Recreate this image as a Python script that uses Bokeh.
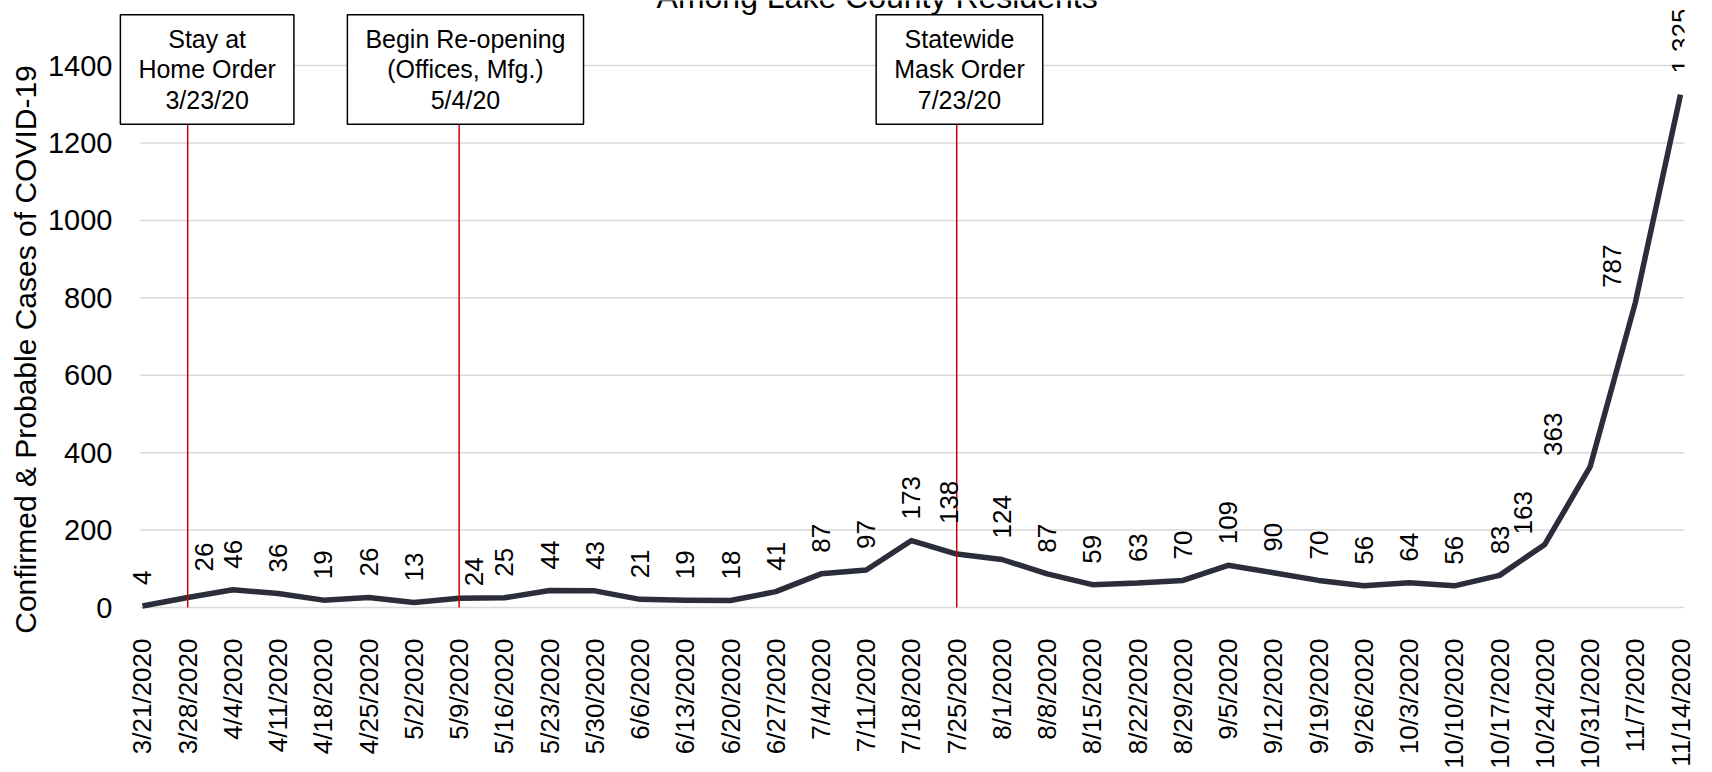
import math
from bokeh.plotting import figure
from bokeh.layouts import row
from bokeh.models import Range1d, FixedTicker, Label, ColumnDataSource
from bokeh.core.properties import value
from bokeh.embed import file_html
from bokeh.resources import INLINE

# ---------------- data ----------------
dates = ["3/21/2020", "3/28/2020", "4/4/2020", "4/11/2020", "4/18/2020", "4/25/2020",
         "5/2/2020", "5/9/2020", "5/16/2020", "5/23/2020", "5/30/2020", "6/6/2020",
         "6/13/2020", "6/20/2020", "6/27/2020", "7/4/2020", "7/11/2020", "7/18/2020",
         "7/25/2020", "8/1/2020", "8/8/2020", "8/15/2020", "8/22/2020", "8/29/2020",
         "9/5/2020", "9/12/2020", "9/19/2020", "9/26/2020", "10/3/2020", "10/10/2020",
         "10/17/2020", "10/24/2020", "10/31/2020", "11/7/2020", "11/14/2020"]
cases = [4, 26, 46, 36, 19, 26, 13, 24, 25, 44, 43, 21, 19, 18, 41, 87, 97, 173,
         138, 124, 87, 59, 63, 70, 109, 90, 70, 56, 64, 56, 83, 163, 363, 787, 1325]
y_ticks = [0, 200, 400, 600, 800, 1000, 1200, 1400]
event_texts = ["Stay at\nHome Order\n3/23/20",
               "Begin Re-opening\n(Offices, Mfg.)\n5/4/20",
               "Statewide\nMask Order\n7/23/20"]
event_dates = ["3/28/2020", "5/9/2020", "7/25/2020"]
title_text = "Among Lake County Residents"
y_label = "Confirmed & Probable Cases of COVID-19"

# ---------------- styling / layout ----------------
FONT = "Liberation Sans"
LINE_COLOR = "#2b2e3a"
RED = "#d00000"
GRID = "#d9d9d9"
N = len(dates)
H = 772
LEFT_W = 44

# left strip holding the vertical axis title
p0 = figure(width=LEFT_W, height=H, output_backend="svg", toolbar_location=None,
            x_range=Range1d(0, LEFT_W), y_range=Range1d(0, H),
            x_axis_location=None, y_axis_location=None,
            min_border=0)
p0.frame_align = False
p0.outline_line_color = None
p0.xgrid.visible = False
p0.ygrid.visible = False
p0.text(x=[25], y=[H - 349], text=[y_label], angle=math.pi / 2,
        text_align="center", text_baseline="middle",
        text_font=value(FONT), text_font_size="30px", text_color="black")

xs = list(range(N))
p = figure(width=1712 - LEFT_W, height=H, output_backend="svg", toolbar_location=None,
           x_range=Range1d(-0.596, N - 1 + 0.088),
           y_range=Range1d(-10.33, 1568.1),
           min_border_left=68, min_border_right=28, min_border_top=0,
           min_border_bottom=161)
p.frame_align = False
p.outline_line_color = None

# x axis
p.xaxis.ticker = FixedTicker(ticks=xs)
p.xaxis.major_label_overrides = {i: d for i, d in enumerate(dates)}
p.xaxis.major_label_orientation = math.pi / 2
p.xaxis.axis_line_color = None
p.xaxis.major_tick_line_color = None
p.xaxis.minor_tick_line_color = None
p.xaxis.major_tick_out = 0
p.xaxis.major_tick_in = 0
p.xaxis.major_label_text_font = FONT
p.xaxis.major_label_text_font_size = "26px"
p.xaxis.major_label_text_color = "black"
p.xaxis.major_label_standoff = 27
p.xgrid.visible = False

# y axis
p.yaxis.ticker = FixedTicker(ticks=y_ticks)
p.yaxis.axis_line_color = None
p.yaxis.major_tick_line_color = None
p.yaxis.minor_tick_line_color = None
p.yaxis.major_tick_out = 0
p.yaxis.major_tick_in = 0
p.yaxis.major_label_text_font = FONT
p.yaxis.major_label_text_font_size = "29px"
p.yaxis.major_label_text_color = "black"
p.yaxis.major_label_standoff = 3
p.ygrid.visible = False

# horizontal gridlines spanning the category area only
GRID_X0, GRID_X1 = -0.044, N - 1 + 0.088
p.segment(x0=[GRID_X0] * len(y_ticks), y0=y_ticks, x1=[GRID_X1] * len(y_ticks), y1=y_ticks,
          line_color=GRID, line_width=1.5)

# data line
p.line(xs, cases, line_color=LINE_COLOR, line_width=5.5, line_join="round")

# event lines
ev_idx = [dates.index(d) for d in event_dates]
BOX_BOTTOM = 1250
p.segment(x0=ev_idx, y0=[0] * len(ev_idx), x1=ev_idx, y1=[BOX_BOTTOM] * len(ev_idx),
          line_color=RED, line_width=1.5)

# data labels (a few nudged as in the reference)
dx = [0] * N
dy = [-21] * N
dx[1], dy[1] = 16, -26
dx[7], dy[7] = 15, -12
dx[18], dy[18] = -8, -30
dx[31], dy[31] = -22, -10
dx[32], dy[32] = -37, -11
dx[33], dy[33] = -23, -15
src = ColumnDataSource(dict(x=xs, y=cases, t=[f"{v:,}" for v in cases], dx=dx, dy=dy))
p.text(x="x", y="y", text="t", source=src, angle=math.pi / 2,
       text_align="left", text_baseline="middle", x_offset="dx", y_offset="dy",
       text_font=value(FONT), text_font_size="26px", text_color="black")

# event boxes
box_off = [0.43, 0.14, 0.06]
for i, txt in enumerate(event_texts):
    p.add_layout(Label(x=ev_idx[i] + box_off[i], y=1390, x_units="data", y_units="data",
                       text=txt, text_align="center", text_baseline="middle",
                       text_font=FONT, text_font_size="25px", text_color="black",
                       text_line_height=1.1,
                       background_fill_color="white", border_line_color="black",
                       border_line_width=1.5,
                       padding=dict(left=18, right=18, top=10, bottom=10)))

# chart title (partially cut at top as in the reference)
p.add_layout(Label(x=16.24, y=1578, x_units="data", y_units="data", text=title_text,
                   text_align="center", text_baseline="alphabetic",
                   text_font=FONT, text_font_size="32px", text_color="black"))

layout = row(p0, p)
open("out.html", "w").write(file_html(layout, INLINE))
